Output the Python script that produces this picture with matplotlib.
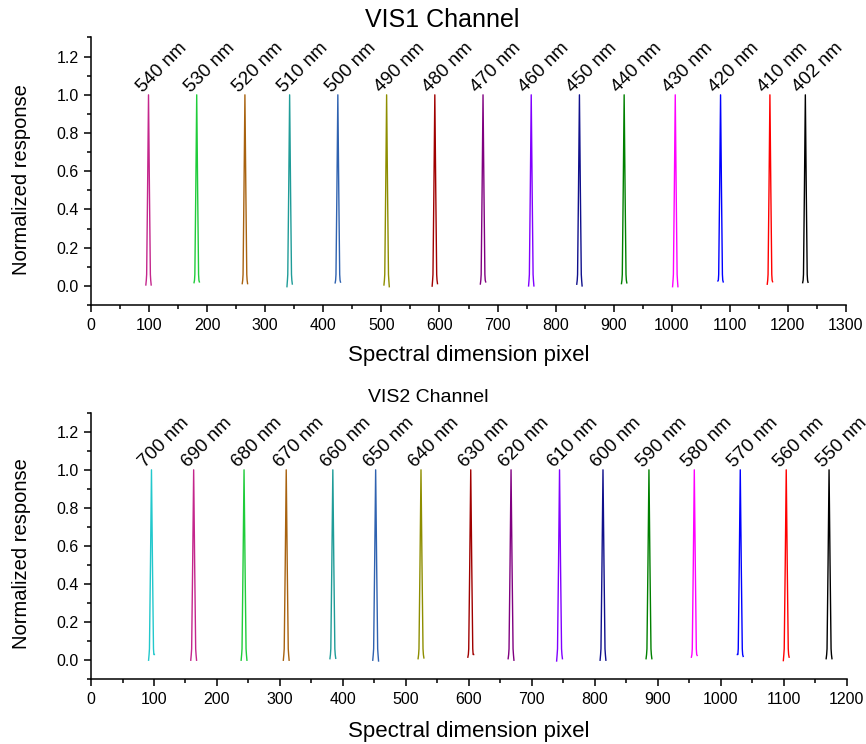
import matplotlib
matplotlib.use("Agg")
import matplotlib.pyplot as plt
from matplotlib.ticker import MultipleLocator, FormatStrFormatter

plt.rcParams['font.family'] = ['Liberation Sans', 'DejaVu Sans']

# ---------------- data ----------------
vis1_labels = ["540 nm", "530 nm", "520 nm", "510 nm", "500 nm", "490 nm", "480 nm", "470 nm",
               "460 nm", "450 nm", "440 nm", "430 nm", "420 nm", "410 nm", "402 nm"]
vis1_peaks = [99, 182, 265, 342, 425, 509, 592, 675, 758, 841, 918, 1006, 1084, 1169, 1230]
vis1_tail_left = [0.005, 0.017, 0.012, -0.004, 0.016, 0.005, -0.001, 0.010, 0.0, 0.009, 0.012, -0.004, 0.026, 0.009, 0.017]
vis1_tail_right = [0.005, 0.021, 0.012, 0.010, 0.020, -0.004, 0.012, 0.021, 0.0, 0.0, 0.016, -0.004, 0.021, 0.022, 0.019]
vis1_colors = ["#C4268C", "#1FCC3A", "#A8620F", "#1F9C98", "#2F62B0", "#8E8E00", "#A00000", "#800080",
               "#8000FF", "#10108C", "#008000", "#FF00FF", "#0000FF", "#FF0000", "#000000"]

vis2_labels = ["700 nm", "690 nm", "680 nm", "670 nm", "660 nm", "650 nm", "640 nm", "630 nm",
               "620 nm", "610 nm", "600 nm", "590 nm", "580 nm", "570 nm", "560 nm", "550 nm"]
vis2_peaks = [96, 163, 243, 310, 384, 452, 524, 603, 667, 744, 813, 886, 958, 1031, 1104, 1172]
vis2_tail_left = [0.0, 0.0, 0.0, 0.0, 0.008, 0.0, 0.008, 0.016, 0.008, -0.004, 0.0, 0.008, 0.016, 0.030, -0.002, 0.008]
vis2_tail_right = [0.030, 0.0, 0.0, 0.0, 0.010, -0.004, 0.012, 0.030, 0.0, 0.008, 0.0, 0.008, 0.025, 0.020, 0.016, 0.008]
vis2_colors = ["#22C8CC", "#C4268C", "#1FCC3A", "#A8620F", "#1F9C98", "#2F62B0", "#8E8E00", "#A00000",
               "#800080", "#8000FF", "#10108C", "#008000", "#FF00FF", "#0000FF", "#FF0000", "#000000"]

# measured shape of one narrow response peak (pixel offset from centre, normalized response)
profile_offsets = [-4.6, -3.8, -3.2, -1.6, 0.0, 1.6, 3.2, 3.8, 4.6]
profile_values = [None, 0.03, 0.06, 0.5, 1.0, 0.5, 0.06, 0.03, None]

# ---------------- figure ----------------
fig = plt.figure(figsize=(8.66, 7.44), dpi=100)
ax1 = fig.add_axes([0.1051, 0.5900, 0.8718, 0.3596])
ax2 = fig.add_axes([0.1051, 0.0870, 0.8726, 0.3583])


def draw(ax, peaks, labels, colors, tl, tr, xmax, xpad):
    for p, lab, c, a, b in zip(peaks, labels, colors, tl, tr):
        xs = [p + o for o in profile_offsets]
        ys = list(profile_values)
        ys[0] = a
        ys[-1] = b
        ax.plot(xs, ys, color=c, lw=1.0, solid_joinstyle='round')
        ax.annotate(lab, xy=(p, 1.0), xytext=(-6, 2), textcoords='offset pixels',
                    rotation=45, rotation_mode='anchor', ha='left', va='baseline',
                    fontsize=13.5, annotation_clip=False)
    ax.set_xlim(0, xmax)
    ax.set_ylim(-0.1, 1.3)
    ax.spines['top'].set_visible(False)
    ax.spines['right'].set_visible(False)
    for s in ('left', 'bottom'):
        ax.spines[s].set_linewidth(1.1)
    ax.xaxis.set_major_locator(MultipleLocator(100))
    ax.xaxis.set_minor_locator(MultipleLocator(50))
    ax.yaxis.set_minor_locator(MultipleLocator(0.1))
    ax.set_yticks([0.0, 0.2, 0.4, 0.6, 0.8, 1.0, 1.2])
    ax.yaxis.set_major_formatter(FormatStrFormatter('%.1f'))
    ax.tick_params(which='major', direction='out', length=5, width=1.1, labelsize=11.5, pad=4)
    ax.tick_params(which='minor', direction='out', length=2.8, width=1.1)
    ax.set_xlabel("Spectral dimension pixel", fontsize=16, labelpad=xpad)
    ax.set_ylabel("Normalized response", fontsize=14.5)
    ax.yaxis.set_label_coords(-0.080, 0.47)


draw(ax1, vis1_peaks, vis1_labels, vis1_colors, vis1_tail_left, vis1_tail_right, 1300, 9)
draw(ax2, vis2_peaks, vis2_labels, vis2_colors, vis2_tail_left, vis2_tail_right, 1200, 10.5)

fig.text(442 / 866, 1 - 27 / 744, "VIS1 Channel", ha='center', va='baseline', fontsize=18)
fig.text(428 / 866, 1 - 402 / 744, "VIS2 Channel", ha='center', va='baseline', fontsize=14)

fig.savefig("out.png", dpi=100)
